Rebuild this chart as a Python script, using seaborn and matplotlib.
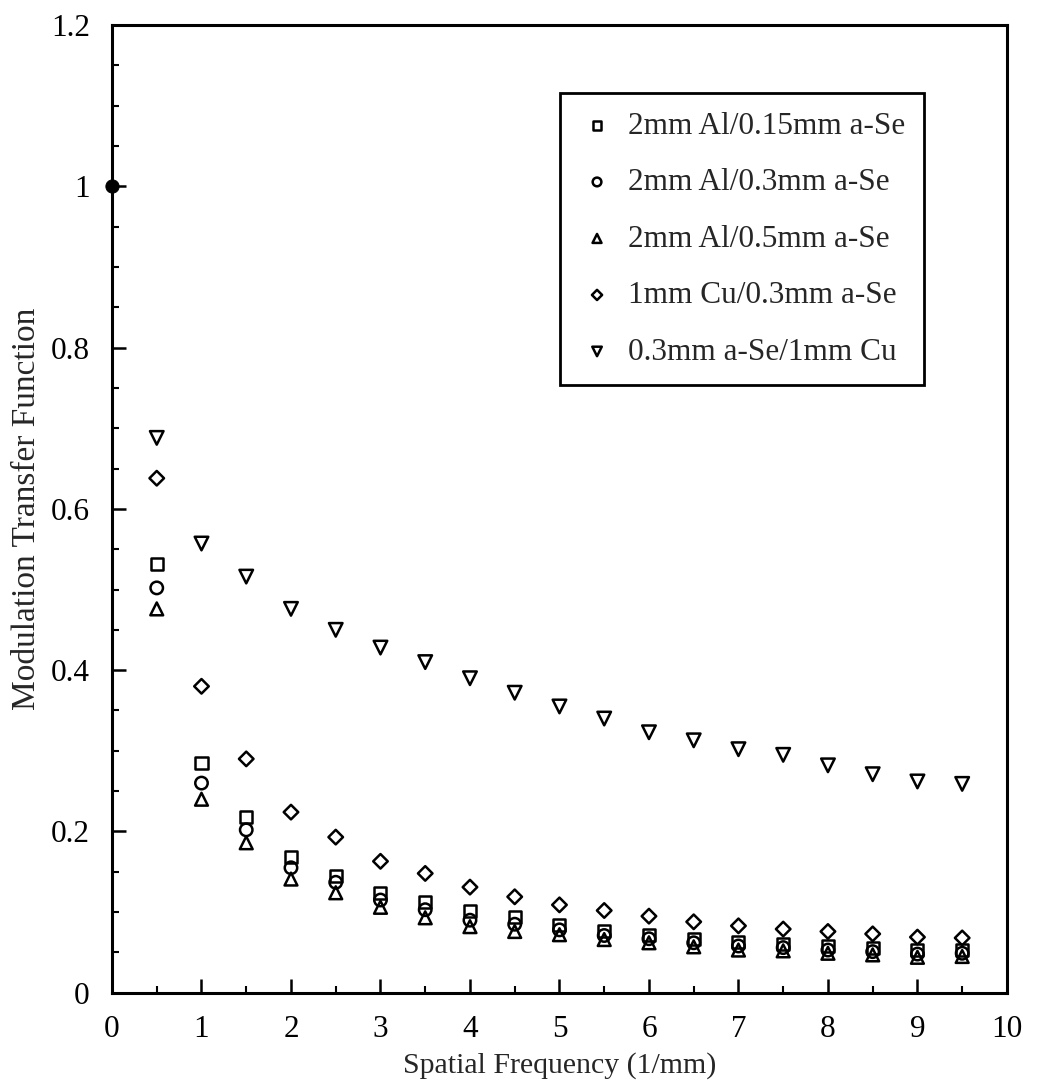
import numpy as np
import pandas as pd
import matplotlib
matplotlib.use("Agg")
import matplotlib.pyplot as plt
import seaborn as sns
from matplotlib.ticker import MultipleLocator, FuncFormatter

sns.set_theme(style="white")
plt.rcParams['font.family'] = ['Liberation Serif', 'DejaVu Serif']

freq = [0.5, 1.0, 1.5, 2.0, 2.5, 3.0, 3.5, 4.0, 4.5, 5.0,
        5.5, 6.0, 6.5, 7.0, 7.5, 8.0, 8.5, 9.0, 9.5]

al_015 = [0.532, 0.285, 0.218, 0.168, 0.145, 0.124, 0.113, 0.101, 0.094, 0.084,
          0.077, 0.072, 0.067, 0.063, 0.060, 0.058, 0.056, 0.053, 0.053]
al_03 = [0.502, 0.260, 0.202, 0.155, 0.137, 0.115, 0.103, 0.090, 0.085, 0.078,
         0.071, 0.067, 0.062, 0.058, 0.056, 0.053, 0.051, 0.048, 0.049]
al_05 = [0.476, 0.240, 0.186, 0.141, 0.124, 0.106, 0.093, 0.082, 0.076, 0.072,
         0.066, 0.062, 0.057, 0.053, 0.052, 0.049, 0.047, 0.044, 0.045]
cu_03 = [0.638, 0.380, 0.290, 0.224, 0.193, 0.163, 0.148, 0.131, 0.119, 0.109,
         0.102, 0.095, 0.088, 0.083, 0.079, 0.076, 0.073, 0.069, 0.068]
se_cu = [0.688, 0.557, 0.516, 0.476, 0.450, 0.428, 0.410, 0.390, 0.372, 0.355,
         0.340, 0.323, 0.313, 0.302, 0.295, 0.282, 0.271, 0.262, 0.259]

labels = ["2mm Al/0.15mm a-Se", "2mm Al/0.3mm a-Se", "2mm Al/0.5mm a-Se",
          "1mm Cu/0.3mm a-Se", "0.3mm a-Se/1mm Cu"]
series = [al_015, al_03, al_05, cu_03, se_cu]
markers = ["s", "o", "^", "D", "v"]
sizes = [75, 80, 85, 55, 95]

origin_x = [0.0]
origin_y = [1.0]

fig = plt.figure(figsize=(10.37, 10.85), dpi=100)
ax = fig.add_axes([0.108, 0.085, 0.863, 0.892])

for lab, vals, m, s in zip(labels, series, markers, sizes):
    df = pd.DataFrame({"x": freq, "y": vals})
    sns.scatterplot(data=df, x="x", y="y", ax=ax, marker=m, s=s,
                    facecolors="none", edgecolor="black", linewidths=1.8,
                    label=lab, zorder=3)

sns.scatterplot(x=origin_x, y=origin_y, ax=ax, marker="o", s=90,
                color="black", edgecolor="black", zorder=4, clip_on=False,
                legend=False)

ax.set_xlim(0, 10)
ax.set_ylim(0, 1.2)
ax.xaxis.set_major_locator(MultipleLocator(1))
ax.xaxis.set_minor_locator(MultipleLocator(0.5))
ax.yaxis.set_major_locator(MultipleLocator(0.2))
ax.yaxis.set_minor_locator(MultipleLocator(0.05))

def fmt(v, pos):
    s = f"{v:.1f}"
    if s.endswith(".0"):
        s = s[:-2]
    return s
ax.yaxis.set_major_formatter(FuncFormatter(fmt))

ax.tick_params(which="both", direction="in", left=True, bottom=True,
               right=False, top=False, colors="black")
ax.tick_params(which="major", length=10, width=1.8, labelsize=22.5)
ax.tick_params(axis="x", which="major", pad=16)
ax.tick_params(axis="y", which="major", pad=16)
ax.tick_params(which="minor", length=5, width=1.5)

for sp in ax.spines.values():
    sp.set_linewidth(2.2)
    sp.set_color("black")

ax.set_xlabel("Spatial Frequency (1/mm)", fontsize=21.5, labelpad=6)
ax.set_ylabel("Modulation Transfer Function", fontsize=24, labelpad=6)

leg = ax.legend(loc="upper left", bbox_to_anchor=(0.5006, 0.9298),
                borderaxespad=0, fontsize=22.5, frameon=True, fancybox=False,
                edgecolor="black", markerscale=0.7, labelspacing=0.88,
                handletextpad=0.41, borderpad=0.6, handlelength=1.17)
leg.get_frame().set_linewidth(2.0)
leg.get_frame().set_alpha(1)

fig.savefig("out.png", dpi=100)
